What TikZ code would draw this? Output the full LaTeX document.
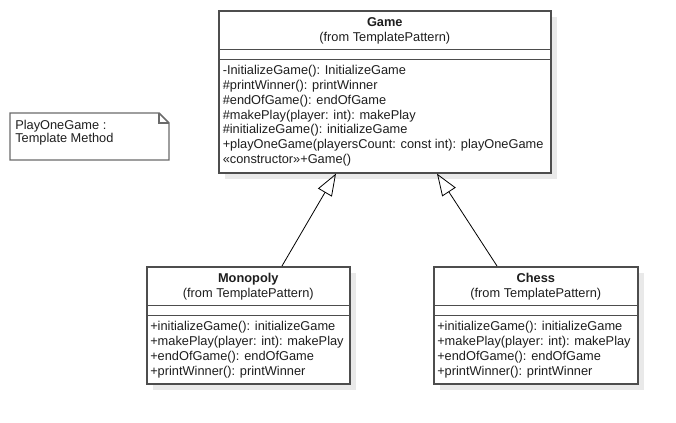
\documentclass[tikz,border=0pt]{standalone}
\usepackage{fontspec}
\setmainfont{Liberation Sans}
\usetikzlibrary{shapes, arrows.meta, shadows, calc, positioning}

\definecolor{boxline}{HTML}{4D4D4D}
\definecolor{boxshadow}{HTML}{E9E9E9}
\definecolor{umltext}{HTML}{1E1E1E}
\definecolor{noteline}{HTML}{6A6A6A}

\tikzset{
    classbox/.style = {draw=boxline, line width=1.2pt, fill=white, anchor=north west, inner sep=0pt,
        drop shadow={shadow xshift=5pt, shadow yshift=-5pt, fill=boxshadow, opacity=1}},
    classline/.style = {draw=boxline, line width=1.2pt},
    umlfont/.style = {font=\fontsize{9.6}{11}\selectfont, text=umltext, inner sep=0pt},
    classname/.style = {umlfont, anchor=base},
    optext/.style = {umlfont, anchor=base west},
    notebox/.style = {draw=noteline, line width=1.1pt, line join=miter},
    inherit/.style = {draw=black, line width=0.6pt, -{Triangle[open, length=16.5pt, width=12pt]}},
}

\begin{document}
\begin{tikzpicture}[x=0.75pt, y=-0.75pt]
    \useasboundingbox (0,0) rectangle (676,423);

    % class boxes
    \node[classbox, minimum width=249pt, minimum height=121.5pt] (game) at (218,10) {};
    \node[classbox, minimum width=152.25pt, minimum height=87.75pt] (mono) at (146,266) {};
    \node[classbox, minimum width=153pt, minimum height=87.75pt] (chess) at (433,266) {};

    % names and compartments
    \foreach \c/\n in {game/Game, mono/Monopoly, chess/Chess}{
        \node[classname, font=\fontsize{9.6}{11}\selectfont\bfseries] (\c N) at ($(\c.north)+(0,17)$) {\n};
        \node[classname] (\c F) at ($(\c.north)+(0,31.5)$) {(from TemplatePattern)};
        \draw[classline] ($(\c.north west)+(0,39.5)$) -- ($(\c.north east)+(0,39.5)$);
        \draw[classline] ($(\c.north west)+(0,49.5)$) -- ($(\c.north east)+(0,49.5)$);
    }

    % operations
    \foreach \t [count=\i from 0] in {-InitializeGame(): InitializeGame, \#printWinner(): printWinner,
        \#endOfGame(): endOfGame, \#makePlay(player: int): makePlay, \#initializeGame(): initializeGame,
        +playOneGame(playersCount: const int): playOneGame, «constructor»+Game()}{
        \node[optext] (gameop\i) at ($(game.north west)+(4.5,{65+14.7*\i})$) {\t};
    }
    \foreach \c in {mono, chess}{
        \foreach \t [count=\i from 0] in {+initializeGame(): initializeGame, +makePlay(player: int): makePlay,
            +endOfGame(): endOfGame, +printWinner(): printWinner}{
            \node[optext] (\c op\i) at ($(\c.north west)+(4,{64.5+15*\i})$) {\t};
        }
    }

    % note
    \draw[notebox] (10,113) -- (159,113) -- (169,123) -- (169,160) -- (10,160) -- cycle;
    \draw[notebox] (159,113) -- (159,123) -- (169,123);
    \node[optext] (note1) at (15,130) {PlayOneGame :};
    \node[optext] (note2) at (15,143) {Template Method};

    % generalisation
    \draw[inherit] ($(mono.north west)+(136,0)$) -- ($(game.south west)+(118,0)$);
    \draw[inherit] ($(chess.north west)+(64,0)$) -- ($(game.south west)+(219,0)$);
\end{tikzpicture}
\end{document}
